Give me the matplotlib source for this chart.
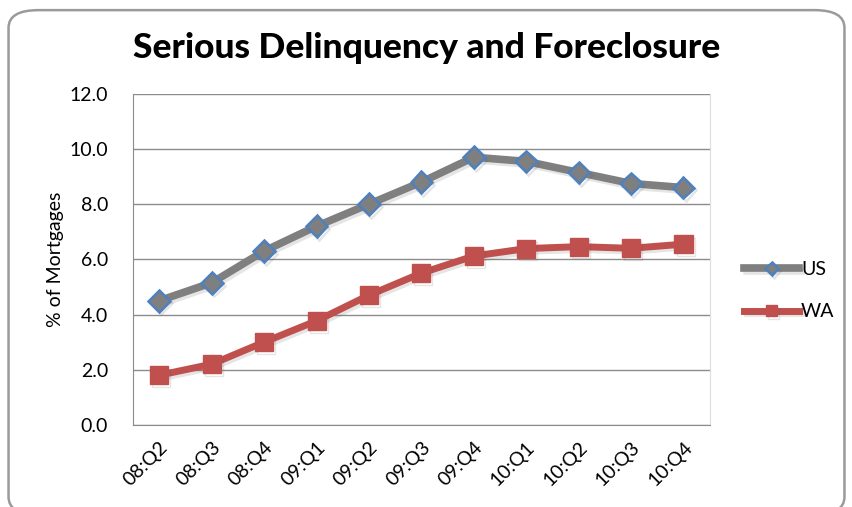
"""Serious delinquency and foreclosure, US vs WA"""
import matplotlib
matplotlib.use('Agg')
import matplotlib.pyplot as plt
import matplotlib.patheffects as pe
from matplotlib.patches import FancyBboxPatch

quarters = ['08:Q2', '08:Q3', '08:Q4', '09:Q1', '09:Q2', '09:Q3',
            '09:Q4', '10:Q1', '10:Q2', '10:Q3', '10:Q4']
us = [4.5, 5.15, 6.3, 7.2, 8.0, 8.8, 9.7, 9.55, 9.15, 8.75, 8.6]
wa = [1.8, 2.2, 3.0, 3.77, 4.7, 5.5, 6.12, 6.39, 6.46, 6.4, 6.55]
yticks = [0, 2, 4, 6, 8, 10, 12]

plt.rcParams['font.family'] = ['Lato', 'DejaVu Sans']

fig = plt.figure(figsize=(8.53, 5.07), dpi=100)
fig.patches.append(FancyBboxPatch((0.010, -0.015), 0.98, 0.995,
                                  boxstyle='round,pad=0,rounding_size=0.035',
                                  transform=fig.transFigure, fc='white',
                                  ec='#9a9a9a', lw=1.8, zorder=-1))

ax = fig.add_axes([0.156, 0.162, 0.676, 0.653])
x = range(len(quarters))
shadow = [pe.SimpleLineShadow(offset=(1.5, -2), shadow_color='#555555',
                              alpha=0.15), pe.Normal()]

ax.plot(x, us, color='#7f7f7f', lw=5.5, marker='D', ms=11,
        mfc='#7f7f7f', mec='#4f81bd', mew=1.8, label='US',
        path_effects=shadow, zorder=3)
ax.plot(x, wa, color='#c0504d', lw=5, marker='s', ms=13,
        mfc='#c0504d', mec='#c0504d', label='WA',
        path_effects=shadow, zorder=3)

ax.set_xlim(-0.5, len(quarters) - 0.5)
ax.set_ylim(0, 12)
ax.set_yticks(yticks)
ax.set_yticklabels(['%.1f' % v for v in yticks], fontsize=14)
ax.set_xticks(list(x))
ax.set_xticklabels(quarters, rotation=45, ha='right', rotation_mode='anchor',
                   fontsize=14)
ax.tick_params(axis='y', length=0, pad=18)
ax.tick_params(axis='x', length=0, pad=10)
ax.grid(axis='y', color='#8c8c8c', lw=1)
ax.set_axisbelow(True)
for s in ['left', 'bottom']:
    ax.spines[s].set_color('#8c8c8c')
ax.spines['top'].set_visible(False)
ax.spines['right'].set_color('#dddddd')
ax.set_ylabel('% of Mortgages', fontsize=14, labelpad=4)

fig.text(0.5, 0.905, 'Serious Delinquency and Foreclosure', ha='center',
         va='center', fontsize=25.5, fontweight='black')

ax.legend(loc='center left', bbox_to_anchor=(1.03, 0.405), frameon=False,
          fontsize=14, handlelength=2.8, labelspacing=1.3, handletextpad=0.1,
          markerscale=0.6)

plt.savefig('out.png', dpi=100)
